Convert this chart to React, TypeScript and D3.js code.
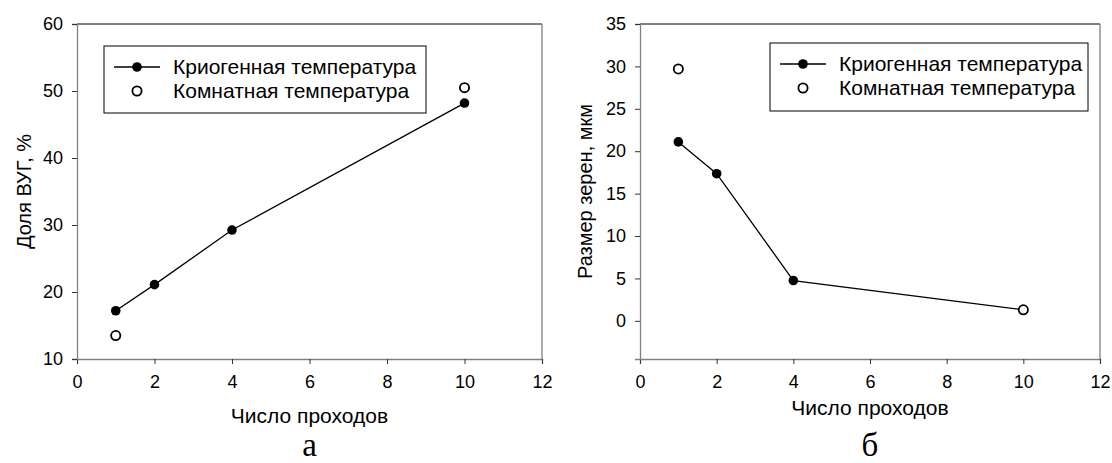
import React, { useEffect, useRef } from 'react';
import * as d3 from 'd3';

// число проходов
const passes = [1, 2, 4, 10];
const roomPasses = [1, 10];

// а: доля ВУГ, %
const vugCryo = [17.2, 21.1, 29.25, 48.2];
const vugRoom = [13.5, 50.5];

// б: размер зерен, мкм
const grainCryo = [21.1, 17.35, 4.75, 1.3];
const grainRoom = [29.7, 1.3];

const xTicks = [0, 2, 4, 6, 8, 10, 12];
const vugTicks = [10, 20, 30, 40, 50, 60];
const grainTicks = [0, 5, 10, 15, 20, 25, 30, 35];

const legendLabels = ['Криогенная температура', 'Комнатная температура'];

const FONT = '"Liberation Sans", Arial, sans-serif';
const AXIS_GREY = '#808080';

type PanelCfg = {
    left: number; right: number; top: number; bottom: number;
    yDomain: [number, number]; yTicks: number[];
    cryo: number[]; room: number[];
    yTitle: string; yTitleX: number;
    xTitleY: number; letter: string;
    legend: { x: number; y: number; w: number; h: number };
};

function drawPanel(svg: d3.Selection<SVGSVGElement, unknown, null, undefined>, c: PanelCfg) {
    const x = d3.scaleLinear().domain([0, 12]).range([c.left, c.right]);
    const y = d3.scaleLinear().domain(c.yDomain).range([c.bottom, c.top]);
    const g = svg.append('g');

    // рамка: верх чёрный, правая сторона серая
    g.append('line').attr('x1', c.left).attr('x2', c.right).attr('y1', c.top).attr('y2', c.top)
        .attr('stroke', '#000').attr('stroke-width', 1);
    g.append('line').attr('x1', c.right).attr('x2', c.right).attr('y1', c.top).attr('y2', c.bottom)
        .attr('stroke', AXIS_GREY).attr('stroke-width', 1.3);

    const xAxis = g.append('g').attr('transform', `translate(0,${c.bottom})`)
        .call(d3.axisBottom(x).tickValues(xTicks).tickSize(5).tickPadding(11).tickFormat(d3.format('d')));
    const yAxis = g.append('g').attr('transform', `translate(${c.left},0)`)
        .call(d3.axisLeft(y).tickValues(c.yTicks).tickSize(5).tickPadding(9).tickFormat(d3.format('d')));
    [xAxis, yAxis].forEach(a => {
        a.select('.domain').attr('stroke', AXIS_GREY).attr('stroke-width', 1.3);
        a.selectAll('.tick line').attr('stroke', '#333');
        a.selectAll('.tick text').attr('font-family', FONT).attr('font-size', 18).attr('fill', '#000');
    });

    // подписи осей
    g.append('text').attr('x', (c.left + c.right) / 2).attr('y', c.xTitleY)
        .attr('text-anchor', 'middle').attr('font-family', FONT).attr('font-size', 21)
        .text('Число проходов');
    g.append('text').attr('transform', `translate(${c.yTitleX},${(c.top + c.bottom) / 2}) rotate(-90)`)
        .attr('text-anchor', 'middle').attr('font-family', FONT).attr('font-size', 20)
        .text(c.yTitle);
    g.append('text').attr('x', (c.left + c.right) / 2).attr('y', 456)
        .attr('text-anchor', 'middle').attr('font-family', '"Liberation Serif", "Times New Roman", serif')
        .attr('font-size', 33).text(c.letter);

    // линия
    const line = d3.line<number>().x((d, i) => x(passes[i])).y(d => y(d));
    g.append('path').datum(c.cryo).attr('d', line).attr('fill', 'none')
        .attr('stroke', '#000').attr('stroke-width', 1.3);
    g.selectAll('.cryo').data(c.cryo).enter().append('circle')
        .attr('cx', (d, i) => x(passes[i])).attr('cy', d => y(d)).attr('r', 4.8).attr('fill', '#000');
    g.selectAll('.room').data(c.room).enter().append('circle')
        .attr('cx', (d, i) => x(roomPasses[i])).attr('cy', d => y(d)).attr('r', 4.6)
        .attr('fill', '#fff').attr('stroke', '#000').attr('stroke-width', 1.8);

    // легенда
    const L = c.legend;
    const lg = g.append('g');
    lg.append('rect').attr('x', L.x).attr('y', L.y).attr('width', L.w).attr('height', L.h)
        .attr('fill', '#fff').attr('stroke', '#000').attr('stroke-width', 1);
    const r1 = L.y + 21, r2 = L.y + 45;
    lg.append('line').attr('x1', L.x + 10).attr('x2', L.x + 56).attr('y1', r1).attr('y2', r1)
        .attr('stroke', '#000').attr('stroke-width', 1.3);
    lg.append('circle').attr('cx', L.x + 33).attr('cy', r1).attr('r', 4.8).attr('fill', '#000');
    lg.append('circle').attr('cx', L.x + 33).attr('cy', r2).attr('r', 4.6)
        .attr('fill', '#fff').attr('stroke', '#000').attr('stroke-width', 1.8);
    legendLabels.forEach((t, i) => {
        lg.append('text').attr('x', L.x + 69).attr('y', i === 0 ? r1 : r2).attr('dy', '0.35em')
            .attr('font-family', FONT).attr('font-size', 21).text(t);
    });
}

export default function App() {
    const ref = useRef<SVGSVGElement>(null);

    useEffect(() => {
        const svg = d3.select(ref.current!);
        svg.selectAll('*').remove();

        drawPanel(svg, {
            left: 77, right: 542, top: 24, bottom: 359,
            yDomain: [10, 60], yTicks: vugTicks,
            cryo: vugCryo, room: vugRoom,
            yTitle: 'Доля ВУГ, %', yTitleX: 31,
            xTitleY: 423, letter: 'а',
            legend: { x: 104, y: 46, w: 322, h: 67 },
        });
        drawPanel(svg, {
            left: 640, right: 1100, top: 24, bottom: 359,
            yDomain: [-4.5, 35], yTicks: grainTicks,
            cryo: grainCryo, room: grainRoom,
            yTitle: 'Размер зерен, мкм', yTitleX: 592,
            xTitleY: 415, letter: 'б',
            legend: { x: 770, y: 43, w: 318, h: 68 },
        });
    }, []);

    return (
        <svg ref={ref} width={1112} height={463}
            style={{ position: 'absolute', left: 0, top: 0, background: '#fff' }} />
    );
}
